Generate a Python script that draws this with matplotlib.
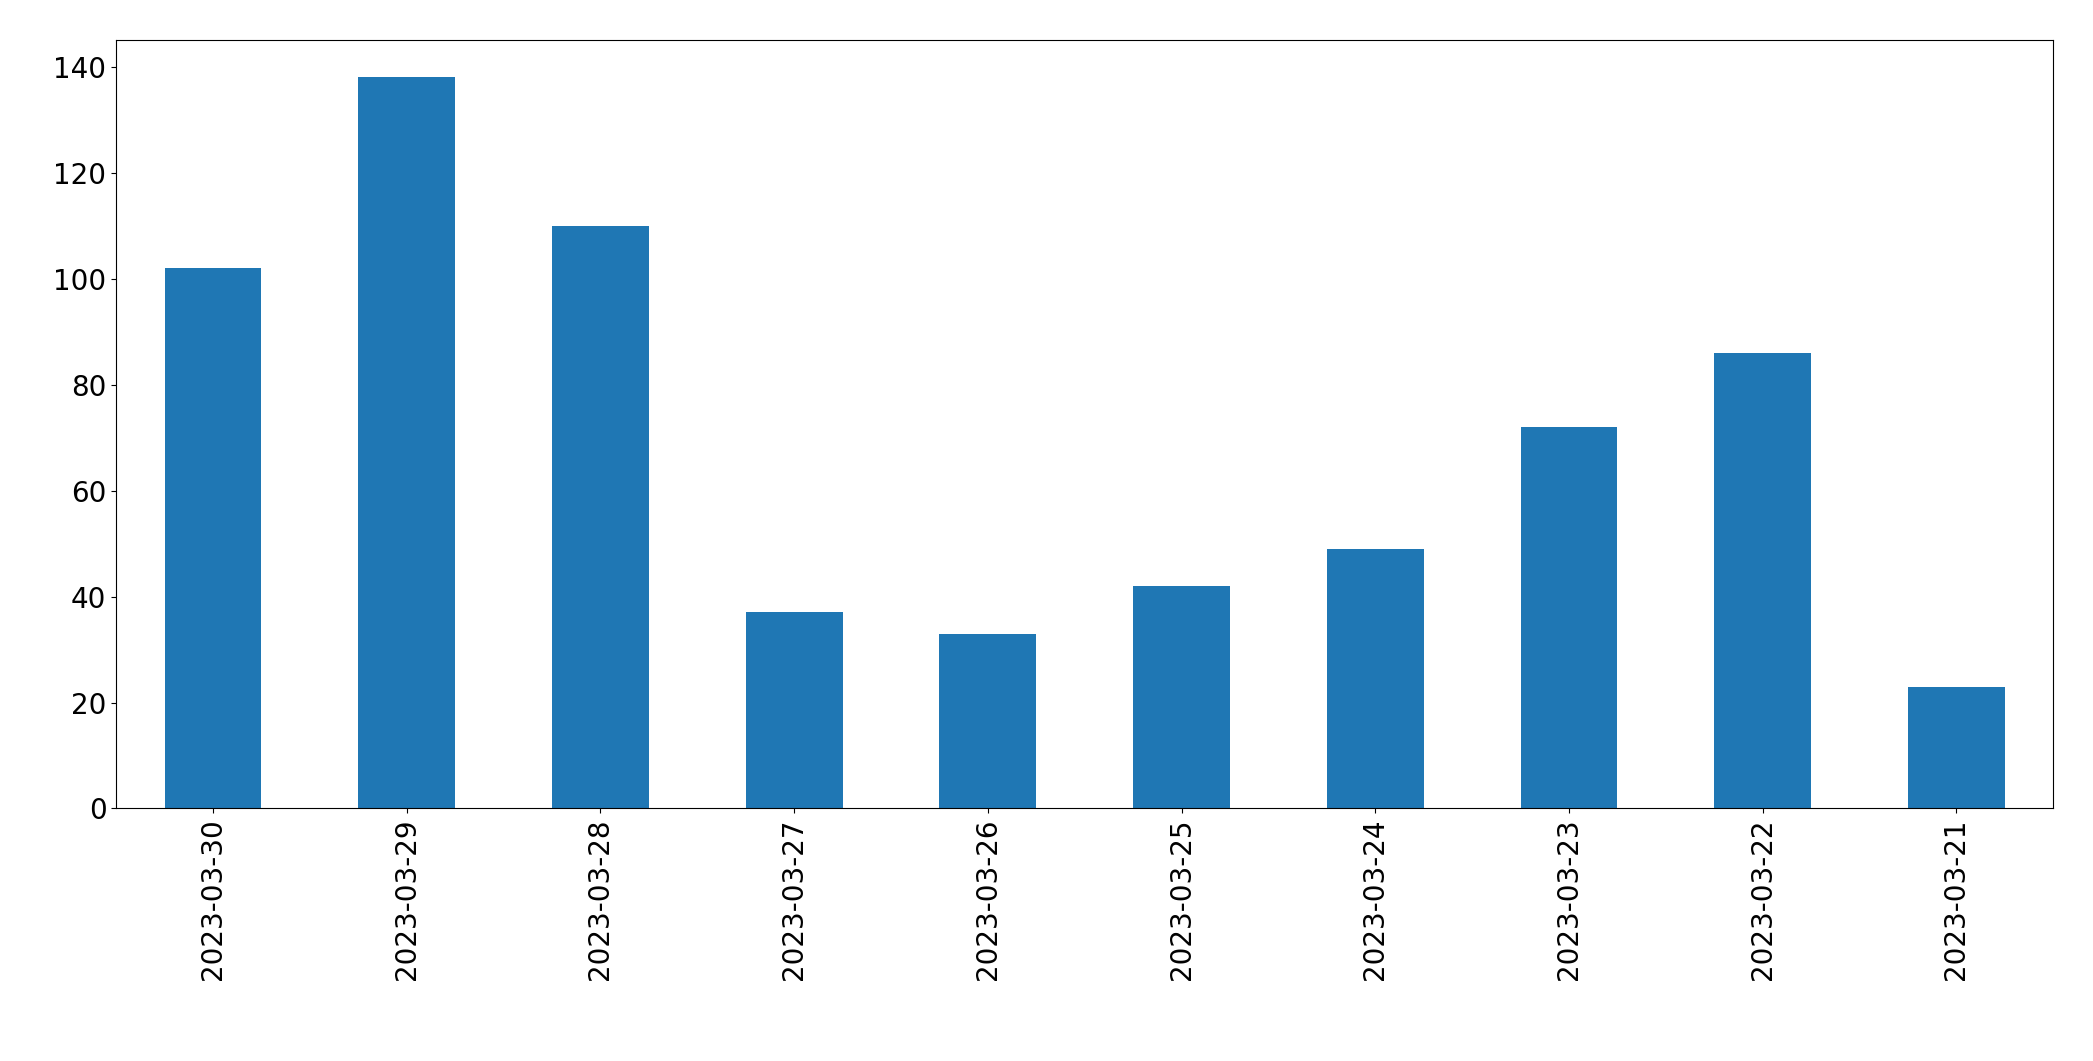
import numpy as np
import matplotlib
matplotlib.use("Agg")
import matplotlib.pyplot as plt

# daily counts, newest first
dates = ["2023-03-30", "2023-03-29", "2023-03-28", "2023-03-27", "2023-03-26",
         "2023-03-25", "2023-03-24", "2023-03-23", "2023-03-22", "2023-03-21"]
counts = [102, 138, 110, 37, 33, 42, 49, 72, 86, 23]

plt.rcParams['font.size'] = 20

fig = plt.figure(figsize=(20.93, 10.61), dpi=100)
ax = fig.add_axes([0.0555, 0.238, 0.9255, 0.724])

x = np.arange(len(dates))
ax.bar(x, counts, width=0.5, color='#1f77b4')
ax.set_xticks(x)
ax.set_xticklabels(dates, rotation=90)
ax.set_xlim(-0.5, len(dates) - 0.5)
ax.set_ylim(0, 145)
ax.tick_params(labelsize=20)

fig.savefig("out.png", dpi=100)
